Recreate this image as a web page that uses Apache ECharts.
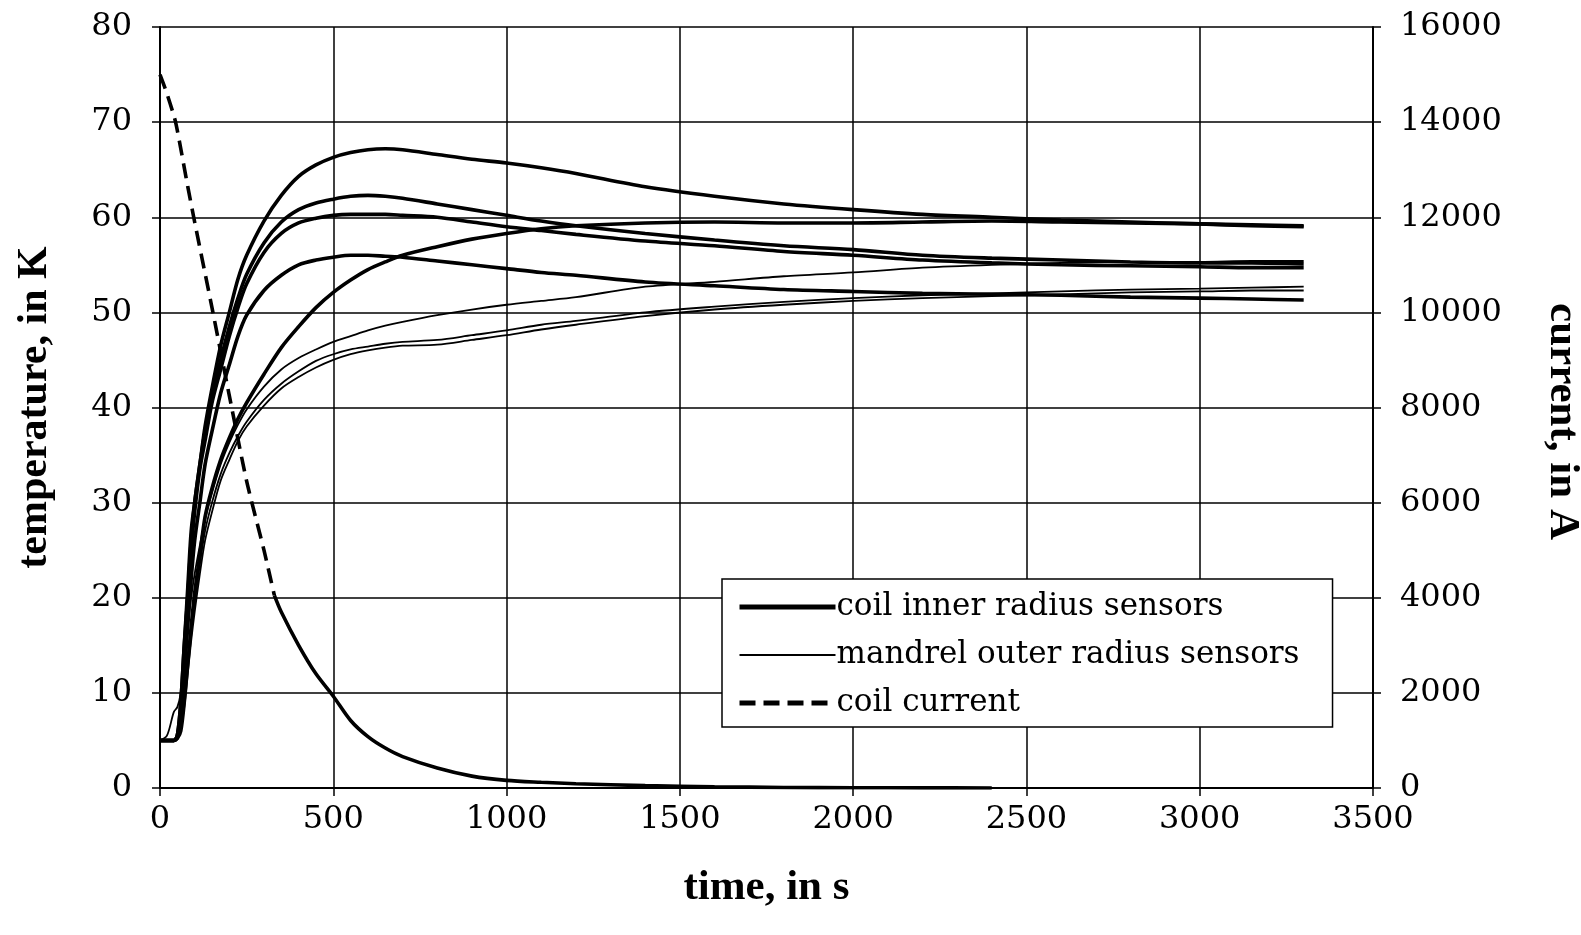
<!DOCTYPE html>
<html>
<head>
<meta charset="utf-8">
<script src="https://cdn.jsdelivr.net/npm/echarts@6/dist/echarts.min.js"></script>
<style>html,body{margin:0;padding:0;background:#fff;}#c{width:1581px;height:935px;}</style>
</head>
<body>
<div id="c"></div>
<script>
// ---- data ----
var timeT = [0, 20, 40, 50, 60, 70, 80, 90, 100, 115, 130, 150, 175, 200, 225, 250, 300, 350, 400, 450, 500, 550, 600, 650, 700, 800, 900, 1000, 1100, 1200, 1400, 1600, 1800, 2000, 2200, 2400, 2600, 2800, 3000, 3150, 3300];
// coil inner radius sensors (K)
var coilA = [5,5,5,5.5,8,14,20,26,30,34,38,42,46.5,50,53.5,56,59.6,62.3,64.3,65.5,66.3,66.8,67.1,67.2,67.1,66.6,66.1,65.7,65.2,64.6,63.2,62.2,61.4,60.8,60.3,60.0,59.7,59.5,59.3,59.1,59.0];
var coilB = [5,5,5,5.5,9,15,21,27,30,34,37.5,41,45,48.5,51.5,54,57.3,59.5,60.8,61.5,61.9,62.2,62.3,62.2,62.0,61.4,60.8,60.2,59.6,59.1,58.3,57.6,57.0,56.6,56.0,55.7,55.5,55.3,55.2,55.2,55.1];
var coilC = [5,5,5,5.5,9,15,20,25,29,33.5,36.5,40.5,44,47.5,50.5,53,56.3,58.3,59.4,59.9,60.2,60.3,60.3,60.3,60.2,60.0,59.5,59.0,58.6,58.2,57.5,57.0,56.4,56.0,55.5,55.2,55.0,54.9,54.8,54.7,54.7];
var coilD = [5,5,5,5.3,7.5,12,17,22,26,30,34,37.5,41.5,44.5,47.5,49.7,52.3,53.9,55.0,55.5,55.8,56.0,56.0,55.9,55.8,55.4,55.0,54.6,54.2,53.9,53.2,52.8,52.4,52.2,52.0,51.9,51.8,51.6,51.5,51.4,51.3];
var coilE = [5,5,5,5.2,6,9,13,17,20.5,24.5,28.5,31.5,34.5,36.8,38.8,40.5,43.5,46.3,48.5,50.5,52.1,53.4,54.5,55.3,56.0,56.9,57.7,58.3,58.8,59.1,59.4,59.5,59.4,59.4,59.5,59.6,59.5,59.4,59.3,59.2,59.1];
// mandrel outer radius sensors (K)
var mandF = [5,5.5,8,8.5,10,13,17,20,22.5,25.5,28.2,31,34,36.3,38.2,39.8,42.2,44,45.2,46.1,46.9,47.5,48.1,48.6,49,49.7,50.3,50.8,51.2,51.6,52.7,53.2,53.8,54.2,54.7,55.0,55.2,55.3,55.3,55.4,55.4];
var mandG = [5,5,5,5.5,7.5,10,13.5,17,19.5,23.5,27,30,33,35.2,37,38.5,40.8,42.5,43.8,44.9,45.6,46.1,46.4,46.7,46.9,47.1,47.6,48.1,48.7,49.1,50.0,50.6,51.1,51.5,51.8,52.0,52.2,52.4,52.5,52.6,52.7];
var mandH = [5,5,5,5.3,6.5,8.5,12,15.5,18.5,22.5,26,29,32.3,34.5,36.5,38,40.2,42,43.2,44.2,45,45.6,46,46.3,46.5,46.6,47.1,47.6,48.2,48.7,49.6,50.3,50.8,51.2,51.5,51.7,51.9,52.1,52.2,52.3,52.3];
// coil current (A)
var timeI1 = [0, 20, 45, 80, 100, 150, 200, 250, 300, 330];
var currI1 = [15000, 14600, 14000, 12650, 11900, 10100, 8250, 6450, 5000, 4050];
var timeI2 = [330, 350, 400, 450, 500, 550, 600, 650, 700, 800, 900, 1000, 1100, 1200, 1400, 1600, 1800, 2000, 2200, 2400];
var currI2 = [4050, 3700, 3000, 2400, 1930, 1420, 1080, 840, 660, 420, 250, 160, 120, 90, 50, 25, 12, 6, 3, 0];

var NAME_COIL = 'coil inner radius sensors';
var NAME_MAND = 'mandrel outer radius sensors';
var NAME_CURR = 'coil current';

function pairs(xs, ys) { return xs.map(function (x, i) { return [x, ys[i]]; }); }

var THICK = 3.6, THIN = 1.8;
var series = [];
[coilA, coilB, coilC, coilD, coilE].forEach(function (v) {
  series.push({ name: NAME_COIL, type: 'line', yAxisIndex: 0, data: pairs(timeT, v), symbol: 'none', smooth: 0.3,
    lineStyle: { color: '#000', width: THICK }, itemStyle: { color: '#000' }, z: 3 });
});
[mandF, mandG, mandH].forEach(function (v) {
  series.push({ name: NAME_MAND, type: 'line', yAxisIndex: 0, data: pairs(timeT, v), symbol: 'none', smooth: 0.3,
    lineStyle: { color: '#000', width: THIN }, itemStyle: { color: '#000' }, z: 3 });
});
series.push({ name: NAME_CURR, type: 'line', yAxisIndex: 1, data: pairs(timeI1, currI1), symbol: 'none', smooth: 0.2,
  lineStyle: { color: '#000', width: THICK, type: [15, 8] }, itemStyle: { color: '#000' }, z: 3 });
series.push({ name: 'coil current tail', type: 'line', yAxisIndex: 1, data: pairs(timeI2, currI2), symbol: 'none', smooth: 0.3,
  lineStyle: { color: '#000', width: THICK }, itemStyle: { color: '#000' }, z: 3 });

var serif = 'DejaVu Serif';
var titleFont = 'Liberation Serif';
function plain(v) { return String(v); }
var tickLbl = { color: '#000', fontFamily: serif, fontSize: 32, formatter: plain };
var hidden = { opacity: 0, color: 'transparent', borderWidth: 0 };

var chart = echarts.init(document.getElementById('c'), null, { renderer: 'canvas' });
chart.setOption({
  animation: false,
  backgroundColor: '#fff',
  grid: { left: 160, right: 208, top: 27, bottom: 147, containLabel: false, outerBoundsMode: 'none' },
  legend: {
    data: [
      { name: NAME_COIL, itemStyle: hidden, lineStyle: { color: '#000', width: 5, type: 'solid', opacity: 1 } },
      { name: NAME_MAND, itemStyle: hidden, lineStyle: { color: '#000', width: 2, type: 'solid', opacity: 1 } },
      { name: NAME_CURR, itemStyle: hidden, lineStyle: { color: '#000', width: 5, type: [16, 8], opacity: 1 } }
    ],
    orient: 'vertical', left: 722, top: 579,
    backgroundColor: '#fff', borderColor: '#000', borderWidth: 1.5, borderRadius: 0,
    padding: [10, 33, 6, 15], itemGap: 12, itemWidth: 96, itemHeight: 14,
    textStyle: { color: '#000', fontFamily: serif, fontSize: 31, lineHeight: 36, padding: [0, 0, 0, -4] },
    selectedMode: false, z: 10
  },
  xAxis: {
    type: 'value', min: 0, max: 3500, interval: 500,
    name: 'time, in s', nameLocation: 'middle', nameGap: 78,
    nameTextStyle: { color: '#000', fontFamily: titleFont, fontWeight: 'bold', fontSize: 43 },
    axisLine: { show: true, lineStyle: { color: '#000', width: 2 } },
    axisTick: { show: true, length: 8, lineStyle: { color: '#000', width: 1.5 } },
    axisLabel: Object.assign({ margin: 16 }, tickLbl),
    splitLine: { show: true, lineStyle: { color: '#000', width: 1.5 } }
  },
  yAxis: [{
    type: 'value', min: 0, max: 80, interval: 10, position: 'left',
    name: 'temperature, in K', nameLocation: 'middle', nameGap: 104,
    nameTextStyle: { color: '#000', fontFamily: titleFont, fontWeight: 'bold', fontSize: 42 },
    axisLine: { show: true, lineStyle: { color: '#000', width: 2 } },
    axisTick: { show: true, length: 8, lineStyle: { color: '#000', width: 1.5 } },
    axisLabel: Object.assign({ margin: 28 }, tickLbl),
    splitLine: { show: true, lineStyle: { color: '#000', width: 1.5 } }
  }, {
    type: 'value', min: 0, max: 16000, interval: 2000, position: 'right',
    name: 'current, in A', nameLocation: 'middle', nameGap: 168, nameRotate: -90,
    nameTextStyle: { color: '#000', fontFamily: titleFont, fontWeight: 'bold', fontSize: 43, padding: [0, 0, 0, 28] },
    axisLine: { show: true, lineStyle: { color: '#000', width: 2 } },
    axisTick: { show: true, length: 8, lineStyle: { color: '#000', width: 1.5 } },
    axisLabel: Object.assign({ margin: 27 }, tickLbl),
    splitLine: { show: false }
  }],
  series: series
});
</script>
</body>
</html>
